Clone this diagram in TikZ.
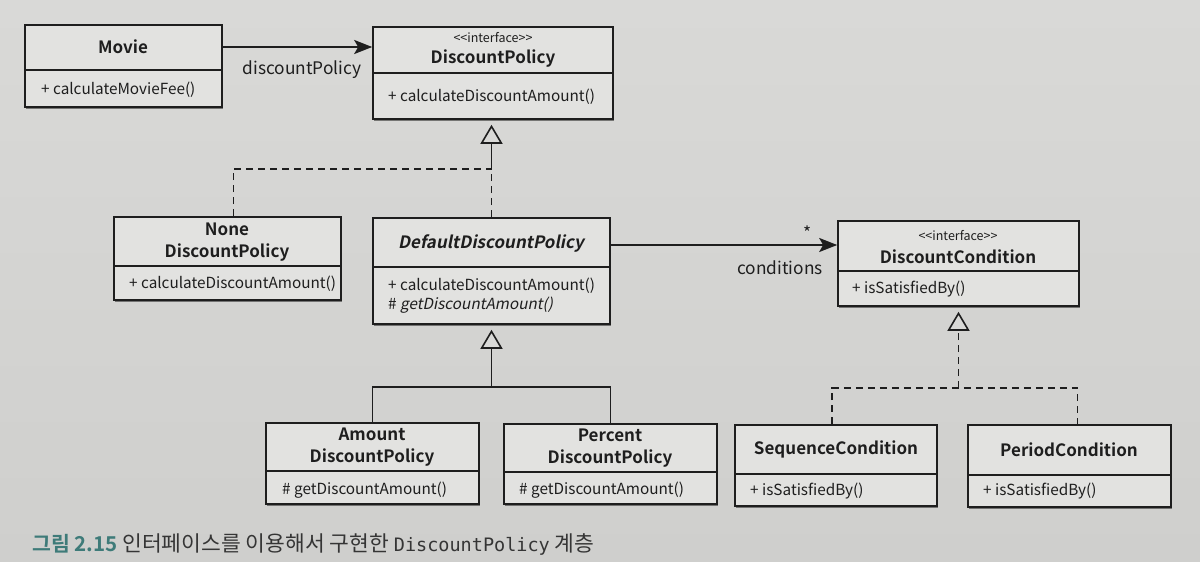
\documentclass[tikz,border=0pt]{standalone}
\usepackage{fontspec}
\setmainfont{Noto Sans CJK KR}[Ligatures=NoCommon, Mapping=, BoldFont={Noto Sans CJK KR Bold}, ItalicFont={Noto Sans CJK KR}, ItalicFeatures={FakeSlant=0.2}, BoldItalicFont={Noto Sans CJK KR Bold}, BoldItalicFeatures={FakeSlant=0.2}]
\newfontfamily\capmono{DejaVu Sans Mono}
\usetikzlibrary{arrows.meta,fit,shadows}
\definecolor{bgc}{HTML}{D9D9D7}
\definecolor{bgd}{HTML}{CFCFCD}
\definecolor{boxc}{HTML}{E2E2E0}
\definecolor{ink}{HTML}{1E1E1E}
\definecolor{teal}{HTML}{3E7B79}
\tikzset{
  cls/.style={draw=ink, line width=1.6pt, fill=boxc, inner sep=0pt,
    drop shadow={shadow xshift=0.8pt, shadow yshift=-1.8pt, opacity=0.45, fill=black}},
  divl/.style={draw=ink, line width=1.4pt},
  ttl/.style={font=\fontsize{17}{21.5}\selectfont\bfseries, align=center, inner sep=0pt, text=ink},
  itf/.style={font=\fontsize{12.5}{14}\selectfont, inner sep=0pt, text=ink},
  bdy/.style={font=\fontsize{15.3}{18}\selectfont, anchor=west, inner sep=0pt, text=ink},
  lbl/.style={font=\fontsize{17.3}{20}\selectfont, inner sep=0pt, text=ink},
  assoc/.style={draw=ink, line width=2.2pt, -{Stealth[length=18pt,width=14pt,inset=4pt]}},
  gen/.style={draw=ink, line width=1.6pt, -{Triangle[length=19pt,width=22pt,fill=bgc]}, shorten >=5pt},
  dline/.style={draw=ink, line width=1.8pt, dash pattern=on 7pt off 5pt},
  sline/.style={draw=ink, line width=1.6pt},
}
\newcommand\umlbox[6]{%
  \node[cls, fit={(#2,#3) (#4,#5)}] (#1) {};
  \draw[divl] (#2,#6) -- (#4,#6);
}
\begin{document}
\begin{tikzpicture}[x=1pt,y=-1pt]
\useasboundingbox (0,0) rectangle (1200,562);
\shade[top color=bgc, bottom color=bgd] (0,0) rectangle (1200,562);

% boxes
\umlbox{movie}{25}{25}{222}{107}{70}
\node[ttl] (movieT) at (123,47) {Movie};
\node[bdy] (movieB) at (41,90) {+ calculateMovieFee()};

\umlbox{dp}{373}{27}{613}{119}{73}
\node[itf] (dpI) at (493,38) {<{}<interface>{}>};
\node[ttl] (dpT) at (493,59) {DiscountPolicy};
\node[bdy] (dpB) at (388,97) {+ calculateDiscountAmount()};

\umlbox{none}{114}{217}{341}{300}{266}
\node[ttl] (noneT) at (227,242) {None\\DiscountPolicy};
\node[bdy] (noneB) at (129,284) {+ calculateDiscountAmount()};

\umlbox{ddp}{373}{218}{610}{324}{267}
\node[ttl, font=\fontsize{17}{21.5}\selectfont\bfseries\itshape] (ddpT) at (491,243) {DefaultDiscountPolicy};
\node[bdy] (ddpB1) at (388,286) {+ calculateDiscountAmount()};
\node[bdy] (ddpB2) at (388,305) {\# \textit{getDiscountAmount()}};

\umlbox{dc}{838}{221}{1079}{306}{271}
\node[itf] (dcI) at (958,236) {<{}<interface>{}>};
\node[ttl] (dcT) at (958,257) {DiscountCondition};
\node[bdy] (dcB) at (852,289) {+ isSatisfiedBy()};

\umlbox{amt}{266}{423}{479}{504}{471}
\node[ttl] (amtT) at (372,447) {Amount\\DiscountPolicy};
\node[bdy] (amtB) at (282,490) {\# getDiscountAmount()};

\umlbox{pct}{504}{424}{717}{504}{472}
\node[ttl] (pctT) at (610,448) {Percent\\DiscountPolicy};
\node[bdy] (pctB) at (519,490) {\# getDiscountAmount()};

\umlbox{seq}{735}{425}{937}{506}{474}
\node[ttl] (seqT) at (836,449) {SequenceCondition};
\node[bdy] (seqB) at (750,491) {+ isSatisfiedBy()};

\umlbox{per}{968}{425}{1171}{507}{475}
\node[ttl] (perT) at (1069,450) {PeriodCondition};
\node[bdy] (perB) at (983,491) {+ isSatisfiedBy()};

% associations
\coordinate (ma) at ([yshift=19pt]movie.east);
\draw[assoc] (ma) -- (ma -| dp.west);
\node[lbl] (lab1) at (302,70) {discountPolicy};

\coordinate (ca) at ([yshift=26pt]ddp.east);
\draw[assoc] (ca) -- (ca -| dc.west);
\node[lbl] (star) at (808,233) {*};
\node[lbl] (lab2) at (780,268) {conditions};

% realization of DiscountPolicy
\coordinate (j1) at (ddp.north |- 0,169);
\draw[dline] ([xshift=6pt]none.north) |- (j1);
\draw[dline] (ddp.north) -- (j1);
\draw[gen] (j1) -- (j1 |- dp.south);

% generalization of DefaultDiscountPolicy
\coordinate (j2) at (ddp.south |- 0,387);
\draw[sline] (amt.north) |- (j2) -| (pct.north);
\draw[gen] (j2) -- (ddp.south);

% realization of DiscountCondition
\coordinate (j3) at (dc.south |- 0,388);
\coordinate (sq) at ([xshift=-4pt]seq.north);
\coordinate (pr) at ([xshift=8pt]per.north);
\draw[dline] (sq) |- (pr |- j3) -- (pr);
\draw[gen, dash pattern=on 7pt off 5pt] (j3) -- (dc.south);

% caption
\node[anchor=west, inner sep=0pt, font=\fontsize{21.5}{24}\selectfont, text=ink!90] (cap) at (32,545)
  {{\color{teal}\fontsize{20.5}{24}\selectfont\bfseries 그림 2.15} 인터페이스를 이용해서 구현한 {\capmono\fontsize{18.5}{22}\selectfont DiscountPolicy} 계층};
\end{tikzpicture}
\end{document}
